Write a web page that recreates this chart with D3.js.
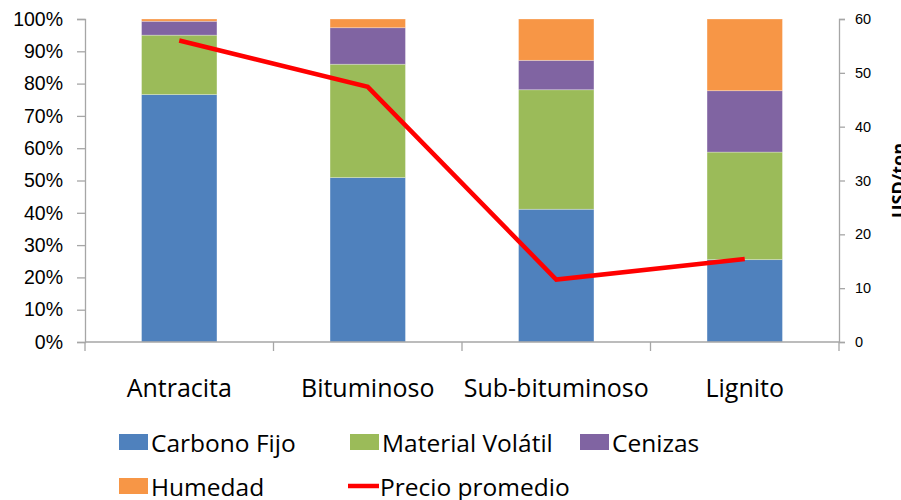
<!DOCTYPE html>
<html>
<head>
<meta charset="utf-8">
<script src="https://d3js.org/d3.v7.min.js"></script>
<style>
  body { margin: 0; background: #fff; }
  svg { display: block; font-family: "Open Sans", sans-serif; }
</style>
</head>
<body>
<div id="chart"></div>
<script>
// data
const categories = ["Antracita", "Bituminoso", "Sub-bituminoso", "Lignito"];
const carbonoFijo = [76.6, 50.9, 41.1, 25.5];
const materialVolatil = [18.4, 35.1, 37.0, 33.3];
const cenizas = [4.3, 11.3, 9.1, 19.0];
const humedad = [0.7, 2.7, 12.8, 22.2];
const precioPromedio = [56.0, 47.4, 11.6, 15.4];
const pctTicks = [0, 0.1, 0.2, 0.3, 0.4, 0.5, 0.6, 0.7, 0.8, 0.9, 1];
const usdTicks = [0, 10, 20, 30, 40, 50, 60];

const seriesNames = ["Carbono Fijo", "Material Volátil", "Cenizas", "Humedad"];
const seriesColors = ["#4F81BD", "#9BBB59", "#8064A2", "#F79646"];
const lineColor = "#FF0000";
const axisColor = "#A6A6A6";

const W = 901, H = 500;
const plot = {left: 85, right: 839, top: 19, bottom: 342};

const svg = d3.select("#chart")
    .append("svg")
    .attr("width", W)
    .attr("height", H);

const x = d3.scaleBand()
    .domain(categories)
    .range([plot.left, plot.right])
    .padding(0);

const y = d3.scaleLinear()
    .domain([0, 1])
    .range([plot.bottom, plot.top]);

const y2 = d3.scaleLinear()
    .domain([0, 60])
    .range([plot.bottom, plot.top]);

// stack the four components (values in %)
const rows = categories.map((c, i) => ({
    cat: c,
    "Carbono Fijo": carbonoFijo[i] / 100,
    "Material Volátil": materialVolatil[i] / 100,
    "Cenizas": cenizas[i] / 100,
    "Humedad": humedad[i] / 100
}));
const stacked = d3.stack().keys(seriesNames)(rows);

const barW = x.bandwidth() * 0.4;

svg.append("g")
    .selectAll("g")
    .data(stacked)
    .join("g")
    .attr("fill", (d, i) => seriesColors[i])
    .selectAll("rect")
    .data(d => d)
    .join("rect")
    .attr("x", d => x(d.data.cat) + (x.bandwidth() - barW) / 2)
    .attr("width", barW)
    .attr("y", d => y(d[1]))
    .attr("height", d => y(d[0]) - y(d[1]))
    .attr("stroke", "rgba(255,255,255,0.35)")
    .attr("stroke-width", 0.8);

// left axis
const leftAxis = svg.append("g")
    .attr("transform", `translate(${plot.left},0)`)
    .call(d3.axisLeft(y).tickValues(pctTicks).tickFormat(d3.format(".0%")).tickSize(8).tickPadding(14));
leftAxis.selectAll("text").style("font-size", "19.5px").attr("fill", "#000");

// right axis
const rightAxis = svg.append("g")
    .attr("transform", `translate(${plot.right},0)`)
    .call(d3.axisRight(y2).tickValues(usdTicks).tickSize(6).tickPadding(10));
rightAxis.selectAll("text").style("font-size", "14.5px").attr("fill", "#000");

// bottom axis with ticks between categories
const bottomAxis = svg.append("g")
    .attr("transform", `translate(0,${plot.bottom})`);
bottomAxis.append("line")
    .attr("x1", plot.left).attr("x2", plot.right)
    .attr("stroke", axisColor).attr("stroke-width", 1.3);
bottomAxis.selectAll("line.sep")
    .data(categories.concat([null]))
    .join("line")
    .attr("class", "sep")
    .attr("x1", (d, i) => i < categories.length ? x(d) : plot.right)
    .attr("x2", (d, i) => i < categories.length ? x(d) : plot.right)
    .attr("y1", 0).attr("y2", 9)
    .attr("stroke", axisColor).attr("stroke-width", 1.3);
bottomAxis.selectAll("text")
    .data(categories)
    .join("text")
    .attr("x", d => x(d) + x.bandwidth() / 2)
    .attr("y", 55)
    .attr("text-anchor", "middle")
    .style("font-size", "25px")
    .text(d => d);

[leftAxis, rightAxis].forEach(a => {
    a.select(".domain").attr("stroke", axisColor).attr("stroke-width", 1.3);
    a.selectAll(".tick line").attr("stroke", axisColor).attr("stroke-width", 1.3);
});

// right axis title (clipped by the frame edge as in the reference)
svg.append("text")
    .attr("transform", `translate(905,${(plot.top + plot.bottom) / 2}) rotate(-90)`)
    .attr("text-anchor", "middle")
    .style("font-size", "18px")
    .style("font-weight", "bold")
    .text("USD/ton");

// price line
const line = d3.line()
    .x((d, i) => x(categories[i]) + x.bandwidth() / 2)
    .y(d => y2(d));

svg.append("path")
    .datum(precioPromedio)
    .attr("d", line)
    .attr("fill", "none")
    .attr("stroke", lineColor)
    .attr("stroke-width", 4.5)
    .attr("stroke-linejoin", "miter");

// legend
const legendItems = [
    {name: "Carbono Fijo", color: seriesColors[0], type: "rect", x: 119, y: 452},
    {name: "Material Volátil", color: seriesColors[1], type: "rect", x: 350, y: 452},
    {name: "Cenizas", color: seriesColors[2], type: "rect", x: 580, y: 452},
    {name: "Humedad", color: seriesColors[3], type: "rect", x: 119, y: 496},
    {name: "Precio promedio", color: lineColor, type: "line", x: 348, y: 496}
];

const legend = svg.append("g");
legendItems.forEach(item => {
    const g = legend.append("g").attr("transform", `translate(${item.x},${item.y})`);
    if (item.type === "rect") {
        g.append("rect")
            .attr("x", 0).attr("y", -18)
            .attr("width", 29).attr("height", 16)
            .attr("fill", item.color);
    } else {
        g.append("line")
            .attr("x1", 0).attr("x2", 31)
            .attr("y1", -10).attr("y2", -10)
            .attr("stroke", item.color)
            .attr("stroke-width", 4.5);
    }
    g.append("text")
        .attr("x", 32)
        .attr("y", 0)
        .style("font-size", "24.5px")
        .text(item.name);
});
</script>
</body>
</html>
